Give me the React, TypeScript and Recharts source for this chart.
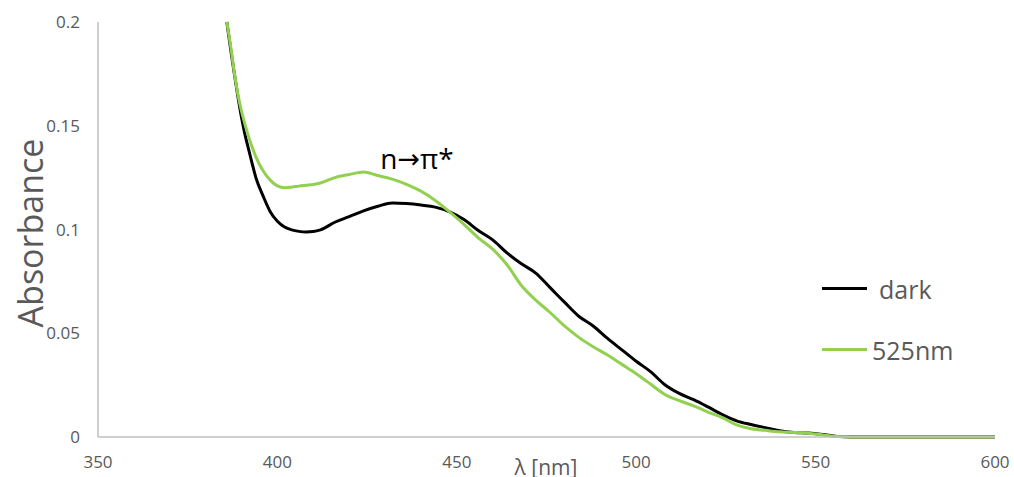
import React from 'react';
import { LineChart, Line, XAxis, YAxis, Legend, Customized } from 'recharts';

const wavelengths = [385.9, 387, 388, 389, 390, 391, 392, 393, 394, 396, 398, 400, 402, 404, 406, 408, 410, 412, 416, 420, 424, 428, 432, 436, 440, 444, 448, 452, 456, 460, 464, 468, 472, 476, 480, 484, 488, 492, 496, 500, 504, 508, 512, 516, 520, 524, 528, 532, 536, 540, 544, 548, 552, 556, 560, 570, 580, 590, 600];

const darkValues = [0.2, 0.1865, 0.175, 0.164, 0.154, 0.1455, 0.1385, 0.1315, 0.125, 0.1162, 0.1086, 0.104, 0.1012, 0.0998, 0.0991, 0.0988, 0.099, 0.0998, 0.1035, 0.1062, 0.109, 0.1112, 0.1128, 0.1125, 0.1118, 0.1108, 0.1085, 0.1048, 0.0995, 0.095, 0.0887, 0.0835, 0.079, 0.072, 0.065, 0.0582, 0.0535, 0.0475, 0.042, 0.0365, 0.0315, 0.0252, 0.021, 0.018, 0.0145, 0.0108, 0.0078, 0.006, 0.0045, 0.003, 0.0022, 0.0019, 0.0012, 0.0003, 0, 0, 0, 0, 0];

const greenValues = [0.2, 0.188, 0.1755, 0.165, 0.157, 0.1504, 0.1445, 0.1395, 0.135, 0.1283, 0.1238, 0.121, 0.1201, 0.1204, 0.1209, 0.1213, 0.1217, 0.1224, 0.125, 0.1265, 0.1277, 0.126, 0.1243, 0.1218, 0.1185, 0.114, 0.1085, 0.1025, 0.096, 0.0905, 0.083, 0.073, 0.066, 0.06, 0.0535, 0.048, 0.0435, 0.0395, 0.035, 0.0305, 0.0255, 0.0205, 0.0175, 0.015, 0.012, 0.0093, 0.0058, 0.004, 0.0032, 0.0025, 0.0022, 0.0018, 0.001, 0.0002, 0, 0, 0, 0, 0];

const xTicks = [350, 400, 450, 500, 550, 600];
const yTicks = [0, 0.05, 0.1, 0.15, 0.2];

const seriesNames = ['dark', '525nm'];
const seriesColors = ['#000000', '#92D050'];

const data = wavelengths.map((wl, i) => ({ wl, dark: darkValues[i], green: greenValues[i] }));

const FONT = '"Open Sans", "Noto Sans", sans-serif';
const GRAY = '#595959';

const renderLegend = () => (
  <div style={{ fontFamily: FONT }}>
    {seriesNames.map((name, i) => (
      <div key={name} style={{ display: 'flex', alignItems: 'center', height: 61 }}>
        <div style={{ width: 45, height: 3, background: seriesColors[i] }} />
        <span style={{ fontSize: 25, color: GRAY, marginLeft: i === 0 ? 12 : 5 }}>{name}</span>
      </div>
    ))}
  </div>
);

const Texts = () => (
  <g style={{ fontFamily: FONT }}>
    <text x={30} y={233} transform="rotate(-90 30 233)" textAnchor="middle" dominantBaseline="central" fontSize={34} fill={GRAY}>Absorbance</text>
    <text x={546} y={467} textAnchor="middle" dominantBaseline="central" fontSize={21} fill={GRAY}>λ [nm]</text>
    <text x={417} y={158} textAnchor="middle" dominantBaseline="central" fontSize={28} fill="#000000">
      <tspan>n</tspan>
      <tspan style={{ fontFamily: '"DejaVu Sans", sans-serif' }} fontSize={27}>→</tspan>
      <tspan>π*</tspan>
    </text>
  </g>
);

export default function App() {
  return (
    <div style={{ position: 'absolute', left: 0, top: 0, background: '#fff' }}>
      <LineChart width={1014} height={477} data={data} margin={{ top: 22, right: 19, bottom: 10, left: 38 }} style={{ fontFamily: FONT }}>
        <XAxis dataKey="wl" type="number" domain={[350, 600]} ticks={xTicks} tickLine={false} axisLine={{ stroke: '#bfbfbf', strokeWidth: 1.5 }} tick={{ fill: GRAY, fontSize: 17 }} tickMargin={13} height={30} />
        <YAxis type="number" domain={[0, 0.2]} ticks={yTicks} tickLine={false} axisLine={{ stroke: '#bfbfbf', strokeWidth: 1.5 }} tick={{ fill: GRAY, fontSize: 17 }} tickMargin={12} width={60} />
        <Line type="monotone" dataKey="dark" name={seriesNames[0]} stroke={seriesColors[0]} strokeWidth={3} dot={false} isAnimationActive={false} />
        <Line type="monotone" dataKey="green" name={seriesNames[1]} stroke={seriesColors[1]} strokeWidth={3} dot={false} isAnimationActive={false} />
        <Legend layout="horizontal" verticalAlign="middle" align="center" content={renderLegend} wrapperStyle={{ left: 822, top: 258, width: 180 }} />
        <Customized component={Texts} />
      </LineChart>
    </div>
  );
}
